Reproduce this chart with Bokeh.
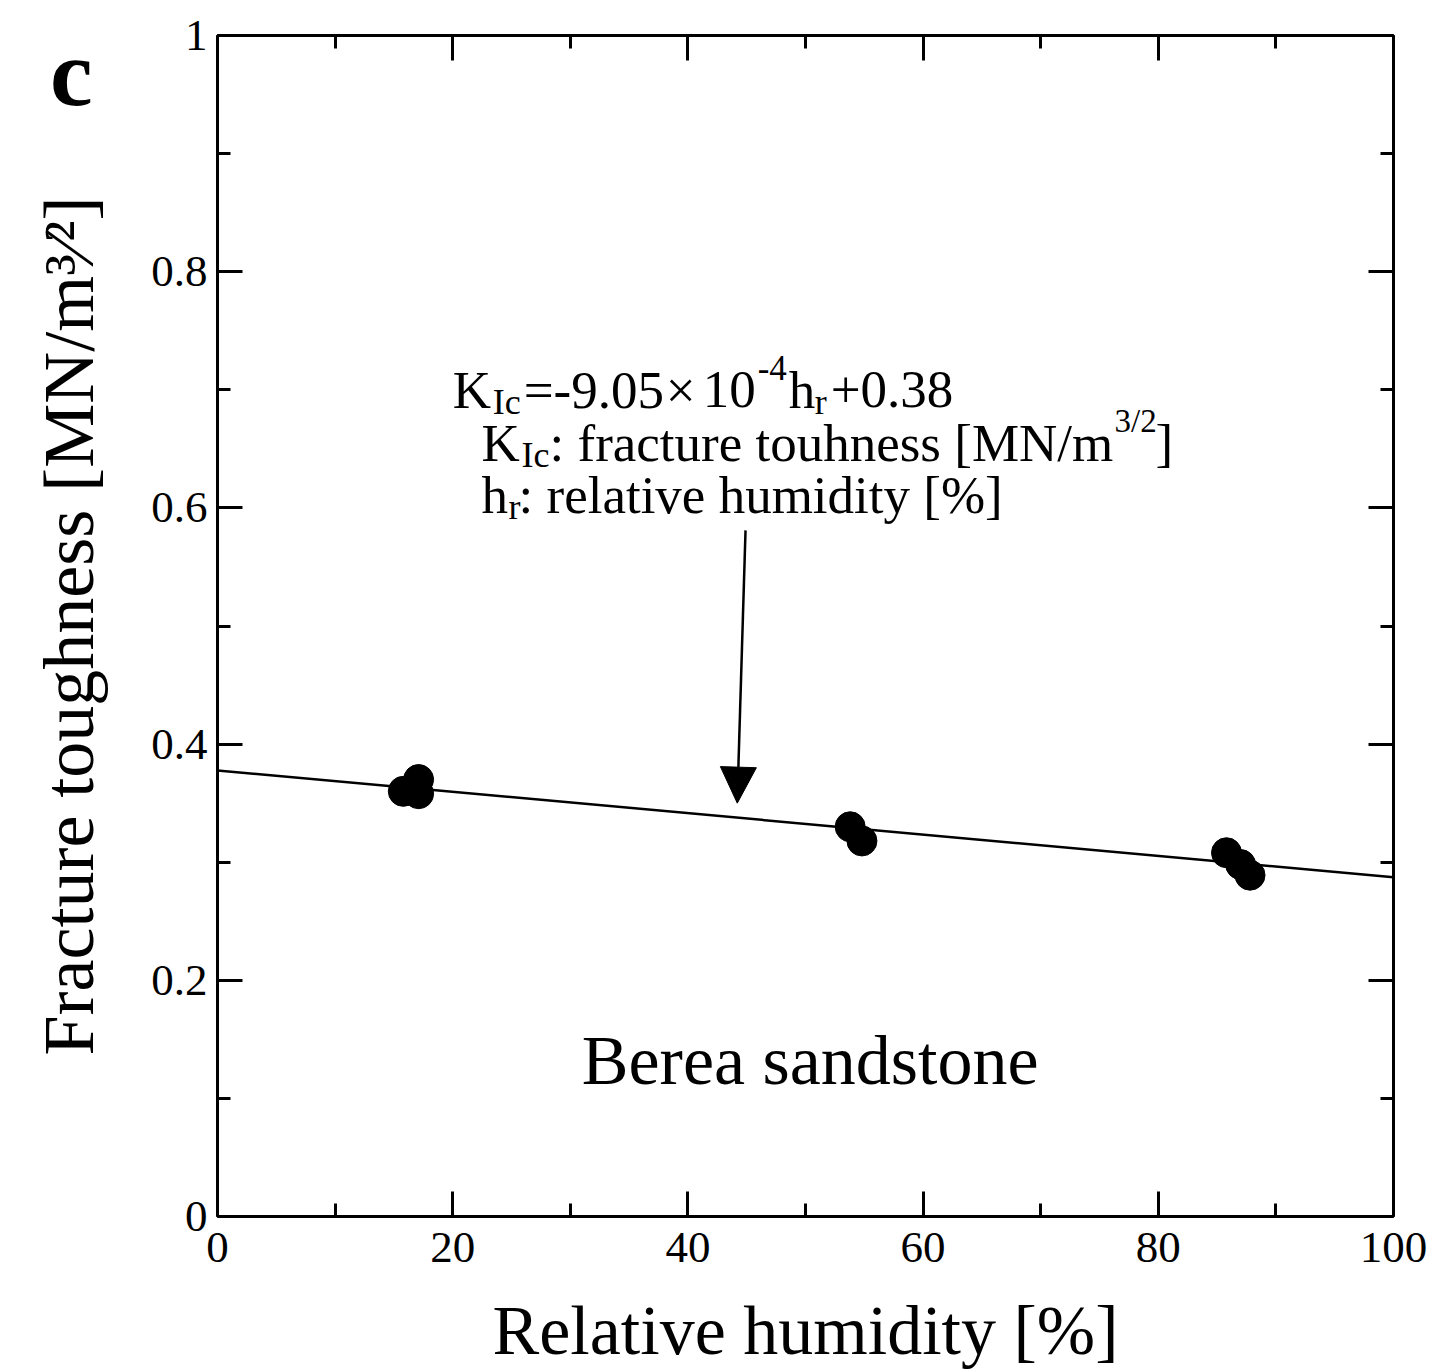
from bokeh.plotting import figure
from bokeh.models import (Range1d, LinearAxis, FixedTicker, Label, Arrow, NormalHead)
from bokeh.embed import file_html
from bokeh.resources import INLINE

# ---- data ----
humidity = [15.8, 17.1, 17.1, 53.8, 54.8, 85.8, 87.0, 87.8]
toughness = [0.360, 0.370, 0.358, 0.330, 0.318, 0.308, 0.298, 0.289]
fit_x = [0, 100]
fit_y = [0.3777, 0.2872]
x_ticks = [0, 20, 40, 60, 80, 100]
x_minor = [0, 10, 20, 30, 40, 50, 60, 70, 80, 90, 100]
y_ticks = [0, 0.2, 0.4, 0.6, 0.8, 1.0]
y_minor = [0, 0.1, 0.2, 0.3, 0.4, 0.5, 0.6, 0.7, 0.8, 0.9, 1.0]
y_tick_labels = ["0", "0.2", "0.4", "0.6", "0.8", "1"]
arrow_start = (44.9, 0.581)
arrow_end = (44.2, 0.350)
panel_letter_pos = 1.0

FONT = "Liberation Serif"

p = figure(width=1436, height=1371, output_backend="svg", toolbar_location=None,
           x_range=Range1d(0, 100), y_range=Range1d(0, 1),
           x_axis_location=None, y_axis_location=None,
           min_border_left=217, min_border_right=43, min_border_top=35, min_border_bottom=155)
p.outline_line_color = None
p.xgrid.visible = False
p.ygrid.visible = False
p.background_fill_color = "white"
p.border_fill_color = "white"


def style_axis(ax, show_labels, standoff=0):
    ax.axis_line_width = 3
    ax.axis_line_color = "black"
    ax.major_tick_in = 25
    ax.major_tick_out = 0
    ax.minor_tick_in = 13
    ax.minor_tick_out = 0
    ax.major_tick_line_width = 3
    ax.minor_tick_line_width = 3
    ax.major_label_text_font = FONT
    ax.major_label_text_color = "black"
    ax.axis_label_text_font = FONT
    ax.axis_label_text_font_style = "normal"
    ax.axis_label_text_color = "black"
    if show_labels:
        ax.major_label_text_font_size = "45px"
        ax.major_label_standoff = standoff
    else:
        ax.major_label_text_font_size = "1px"
        ax.major_label_text_color = None
        ax.major_label_standoff = 0


xt = FixedTicker(ticks=x_ticks, minor_ticks=x_minor)
yt = FixedTicker(ticks=y_ticks, minor_ticks=y_minor)
overrides = {t: s for t, s in zip(y_ticks, y_tick_labels)}

bottom = LinearAxis(ticker=xt, axis_label="Relative humidity [%]")
style_axis(bottom, True, 16)
bottom.axis_label_text_font_size = "70px"
bottom.axis_label_standoff = 27
top = LinearAxis(ticker=xt)
style_axis(top, False)
left = LinearAxis(ticker=yt, major_label_overrides=overrides,
                  axis_label="Fracture toughness [MN/m\u00b3\u2044\u00b2]")
style_axis(left, True, 10)
left.axis_label_text_font_size = "72px"
left.axis_label_standoff = 39
right = LinearAxis(ticker=yt)
style_axis(right, False)
p.add_layout(bottom, "below")
p.add_layout(top, "above")
p.add_layout(left, "left")
p.add_layout(right, "right")

# panel letter "c", drawn as the single tick label of an extra, line-less left axis
letter_axis = LinearAxis(ticker=FixedTicker(ticks=[panel_letter_pos], minor_ticks=[]),
                         major_label_overrides={panel_letter_pos: "c"})
letter_axis.axis_line_color = None
letter_axis.major_tick_line_color = None
letter_axis.minor_tick_line_color = None
letter_axis.major_label_text_font = FONT
letter_axis.major_label_text_font_size = "96px"
letter_axis.major_label_text_font_style = "bold"
letter_axis.major_label_text_color = "black"
letter_axis.major_label_standoff = -72
p.add_layout(letter_axis, "left")

# fit line and data
p.line(fit_x, fit_y, line_color="black", line_width=2.5)
p.scatter(humidity, toughness, size=30, color="black")

# arrow
p.add_layout(Arrow(x_start=arrow_start[0], y_start=arrow_start[1],
                   x_end=arrow_end[0], y_end=arrow_end[1],
                   line_width=2.5, line_color="black",
                   end=NormalHead(size=36, fill_color="black", line_color="black")))


def lab(x, y, text, size, dx=0, dy=0):
    p.add_layout(Label(x=x, y=y, text=text, x_offset=dx, y_offset=dy,
                       text_font=FONT, text_font_size=f"{size}px", text_color="black",
                       text_baseline="alphabetic", text_align="left"))


# equation annotation (line 1)
L1x, L1y = 20.0, 0.700
lab(L1x, L1y, "K", 53)
lab(L1x, L1y, "Ic", 36, dx=40, dy=-12)
lab(L1x, L1y, "=-9.05", 53, dx=71)
lab(L1x, L1y, "\u00d7", 53, dx=213)
lab(L1x, L1y, "10", 53, dx=250)
lab(L1x, L1y, "-4", 35, dx=305, dy=22)
lab(L1x, L1y, "h", 53, dx=336)
lab(L1x, L1y, "r", 36, dx=362, dy=-12)
lab(L1x, L1y, "+0.38", 53, dx=378)
# line 2
L2x, L2y = 22.45, 0.655
lab(L2x, L2y, "K", 53)
lab(L2x, L2y, "Ic", 36, dx=40, dy=-12)
lab(L2x, L2y, ": fracture touhness [MN/m", 53, dx=68)
lab(L2x, L2y, "3/2", 33, dx=633, dy=22)
lab(L2x, L2y, "]", 53, dx=674)
# line 3
L3x, L3y = 22.45, 0.611
lab(L3x, L3y, "h", 53)
lab(L3x, L3y, "r", 36, dx=27, dy=-12)
lab(L3x, L3y, ": relative humidity [%]", 53, dx=37)

# sample name
p.add_layout(Label(x=50.4, y=0.132, text="Berea sandstone", text_font=FONT,
                   text_font_size="70px", text_align="center", text_baseline="middle",
                   text_color="black"))

open("out.html", "w").write(file_html(p, INLINE))
